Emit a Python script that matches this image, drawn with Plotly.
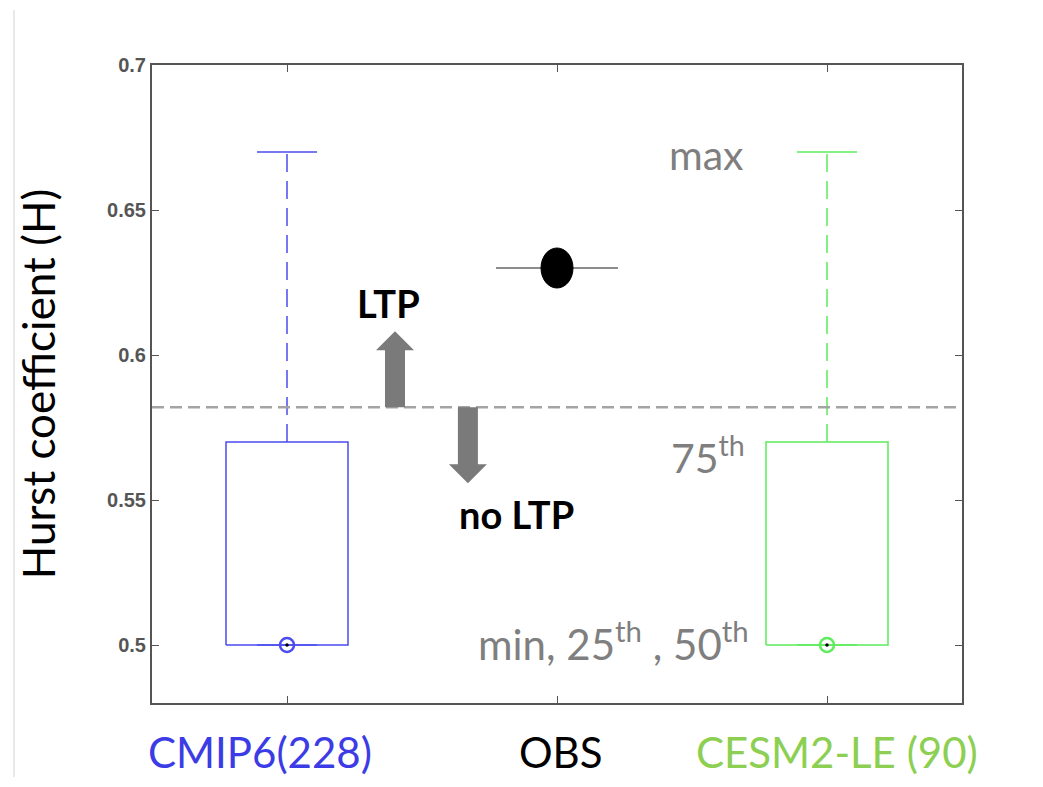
import plotly.graph_objects as go

# ---- data ----
groups = ["CMIP6(228)", "OBS", "CESM2-LE (90)"]
group_pos = [1, 2, 3]
box_min = [0.50, None, 0.50]
box_q1 = [0.50, None, 0.50]
box_median = [0.50, None, 0.50]
box_q3 = [0.57, None, 0.57]
box_max = [0.67, None, 0.67]
obs_value = 0.63
ltp_threshold = 0.582
y_ticks = [0.5, 0.55, 0.6, 0.65, 0.7]

# ---- styles ----
box_colors = ["#4b4bf0", None, "#5cec5c"]
label_colors = ["#3c3ce6", "#000000", "#8ccf52"]
label_shift = [-27, 4, 10]
gray_txt = "#7f7f7f"
frame = "#555555"

X_RANGE = [0.5, 3.5]
Y_RANGE = [0.48, 0.70]
OFF = 8  # page body margin
W, H = 1043 - 2 * OFF, 787 - 2 * OFF
L, T = 152 - OFF, 65 - OFF
R = W - (962 - OFF)
B = H - (703 - OFF)
px_x = (W - L - R) / (X_RANGE[1] - X_RANGE[0])
px_y = (H - T - B) / (Y_RANGE[1] - Y_RANGE[0])

fig = go.Figure()

box_half = 61 / px_x
cap_half = 30 / px_x
for i, xp in enumerate(group_pos):
    if box_q1[i] is None:
        continue
    c = box_colors[i]
    fig.add_trace(go.Scatter(
        x=[xp - box_half, xp + box_half, xp + box_half, xp - box_half, xp - box_half],
        y=[box_q1[i], box_q1[i], box_q3[i], box_q3[i], box_q1[i]],
        mode="lines", line=dict(color=c, width=1.5), showlegend=False, hoverinfo="skip"))
    fig.add_trace(go.Scatter(x=[xp, xp], y=[box_q3[i], box_max[i]], mode="lines",
                             line=dict(color=c, width=1.5, dash="18px,9px"),
                             showlegend=False, hoverinfo="skip"))
    fig.add_trace(go.Scatter(x=[xp - cap_half, xp + cap_half], y=[box_max[i], box_max[i]],
                             mode="lines", line=dict(color=c, width=1.5),
                             showlegend=False, hoverinfo="skip"))
    fig.add_trace(go.Scatter(x=[xp - cap_half, xp + cap_half], y=[box_min[i], box_min[i]],
                             mode="lines", line=dict(color=c, width=1.5),
                             showlegend=False, hoverinfo="skip"))
    fig.add_trace(go.Scatter(x=[xp], y=[box_median[i]], mode="markers",
                             marker=dict(symbol="circle-open", size=14, color=c,
                                         line=dict(width=2.5)),
                             showlegend=False, hoverinfo="skip"))
    fig.add_trace(go.Scatter(x=[xp], y=[box_median[i]], mode="markers",
                             marker=dict(symbol="circle", size=3.5, color="#000"),
                             showlegend=False, hoverinfo="skip"))

# OBS line and ellipse
obs_x = group_pos[1]
fig.add_trace(go.Scatter(x=[obs_x - box_half, obs_x + box_half], y=[obs_value, obs_value],
                         mode="lines", line=dict(color="#666666", width=1.5),
                         showlegend=False, hoverinfo="skip"))
fig.add_shape(type="circle", xref="x", yref="y",
              x0=obs_x - 16 / px_x, x1=obs_x + 16 / px_x,
              y0=obs_value - 20 / px_y, y1=obs_value + 20 / px_y,
              fillcolor="#000", line=dict(color="#000", width=1))

# threshold dashed line
fig.add_shape(type="line", xref="paper", yref="y", x0=0, x1=1,
              y0=ltp_threshold, y1=ltp_threshold,
              line=dict(color="#a4a4a4", width=2.5, dash="12px,6px"))

# faint image border on the left
fig.add_shape(type="line", xref="paper", yref="paper",
              x0=(14 - OFF - L) / (W - L - R), x1=(14 - OFF - L) / (W - L - R),
              y0=-(B - 2) / (H - T - B), y1=1 + (T - 2) / (H - T - B),
              line=dict(color="#e2e2e2", width=1.5))

# arrows
arrow_col = "#7a7a7a"
def arrow_path(xc, ybase, direction):
    sw = 10 / px_x
    hw = 19 / px_x
    shaft = 57 / px_y
    head = 19 / px_y
    yb = ybase
    yh = ybase + direction * shaft
    yt = ybase + direction * (shaft + head)
    return (f"M {xc-sw},{yb} L {xc-sw},{yh} L {xc-hw},{yh} L {xc},{yt} "
            f"L {xc+hw},{yh} L {xc+sw},{yh} L {xc+sw},{yb} Z")

fig.add_shape(type="path", xref="x", yref="y", path=arrow_path(1.40, ltp_threshold, 1),
              fillcolor=arrow_col, line=dict(width=0))
fig.add_shape(type="path", xref="x", yref="y", path=arrow_path(1.67, ltp_threshold, -1),
              fillcolor=arrow_col, line=dict(width=0))

font_main = "Lato, Noto Sans, sans-serif"
fig.add_annotation(x=1.375, y=0.618, text="<b>LTP</b>", showarrow=False,
                   font=dict(family=font_main, size=38, color="#000"))
fig.add_annotation(x=1.85, y=0.5452, text="<b>no LTP</b>", showarrow=False,
                   font=dict(family=font_main, size=38, color="#000"))
fig.add_annotation(x=2.552, y=0.669, text="max", showarrow=False,
                   font=dict(family=font_main, size=41, color=gray_txt))
fig.add_annotation(x=2.559, y=0.5655, text="75<sup>th</sup>", showarrow=False,
                   font=dict(family=font_main, size=41, color=gray_txt))
fig.add_annotation(x=2.211, y=0.5015, text="min, 25<sup>th</sup> , 50<sup>th</sup>",
                   showarrow=False, xanchor="center",
                   font=dict(family=font_main, size=42, color=gray_txt))

# category labels
for xp, g, col, sh in zip(group_pos, groups, label_colors, label_shift):
    fig.add_annotation(x=xp, y=0, yref="paper", yanchor="middle", yshift=-49,
                       xshift=sh, text=g, showarrow=False,
                       font=dict(family=font_main, size=42, color=col))

fig.update_layout(
    width=W, height=H,
    margin=dict(l=L, r=R, t=T, b=B),
    paper_bgcolor="white", plot_bgcolor="white",
    showlegend=False,
)
fig.update_xaxes(range=X_RANGE, tickvals=group_pos, ticktext=["", "", ""],
                 ticks="inside", ticklen=7, tickcolor=frame, showgrid=False,
                 zeroline=False, showline=True, linecolor=frame, linewidth=2,
                 mirror="ticks")
fig.update_yaxes(range=Y_RANGE, tickvals=y_ticks, ticktext=[f"<b>{v:g}</b>" for v in y_ticks],
                 ticks="inside", ticklen=7, tickcolor=frame, showgrid=False,
                 zeroline=False, showline=True, linecolor=frame, linewidth=2,
                 mirror="ticks",
                 tickfont=dict(family="Liberation Sans, Arial", size=20, color="#555555"),
                 title=dict(text="Hurst coefficient (H)",
                            font=dict(family=font_main, size=44, color="#000"),
                            standoff=38))

fig.write_html("out.html")
